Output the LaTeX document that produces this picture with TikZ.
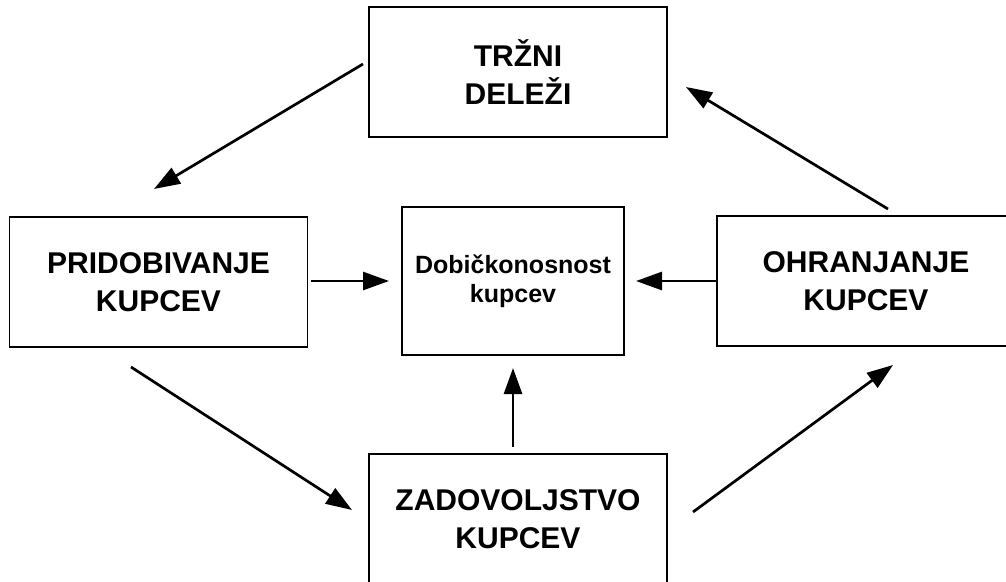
\documentclass[tikz,border=0pt]{standalone}
\usepackage{fontspec}
\setmainfont{Liberation Sans}
\usetikzlibrary{arrows.meta}

\begin{document}
\begin{tikzpicture}[x=1pt,y=-1pt,
  box/.style={draw=black, line width=1.6pt, minimum width=298pt, minimum height=130pt,
              inner sep=0pt, align=center, font=\fontsize{30}{38}\selectfont\bfseries},
  midbox/.style={box, minimum width=222pt, minimum height=148pt,
              font=\fontsize{25}{29}\selectfont\bfseries},
  flow/.style={line width=2.7pt, -{Triangle[length=26pt,width=18pt]}}]

  \useasboundingbox (0,0) rectangle (1006,581);
  \clip (0,0) rectangle (1006,581);

  % the five stages
  \node[box]    (trz) at (518,72)    {TRŽNI\\DELEŽI};
  \node[box]    (pri) at (158.5,282) {PRIDOBIVANJE\\KUPCEV};
  \node[midbox] (dob) at (513,281)   {Dobičkonosnost\\kupcev};
  \node[box]    (ohr) at (866,281)   {OHRANJANJE\\KUPCEV};
  \node[box]    (zad) at (518,519)   {ZADOVOLJSTVO\\KUPCEV};

  % free ends of the connectors
  \coordinate (trzOut) at (363,64);
  \coordinate (priIn)  at (154,189);
  \coordinate (ohrUp)  at (888,209);
  \coordinate (trzIn)  at (686,87);
  \coordinate (priOut) at (311,281);
  \coordinate (dobL)   at (389,281);
  \coordinate (ohrL)   at (716,281);
  \coordinate (dobR)   at (636,281);
  \coordinate (zadUp)  at (513,447);
  \coordinate (dobB)   at (513,368);
  \coordinate (priDn)  at (131,367);
  \coordinate (zadL)   at (352,510);
  \coordinate (zadR)   at (693,512);
  \coordinate (ohrDn)  at (893,365);

  % connectors
  \draw[flow] (trzOut) -- (priIn);
  \draw[flow] (ohrUp)  -- (trzIn);
  \draw[flow] (priOut) -- (dobL);
  \draw[flow] (ohrL)   -- (dobR);
  \draw[flow] (zadUp)  -- (dobB);
  \draw[flow] (priDn)  -- (zadL);
  \draw[flow] (zadR)   -- (ohrDn);
\end{tikzpicture}
\end{document}
